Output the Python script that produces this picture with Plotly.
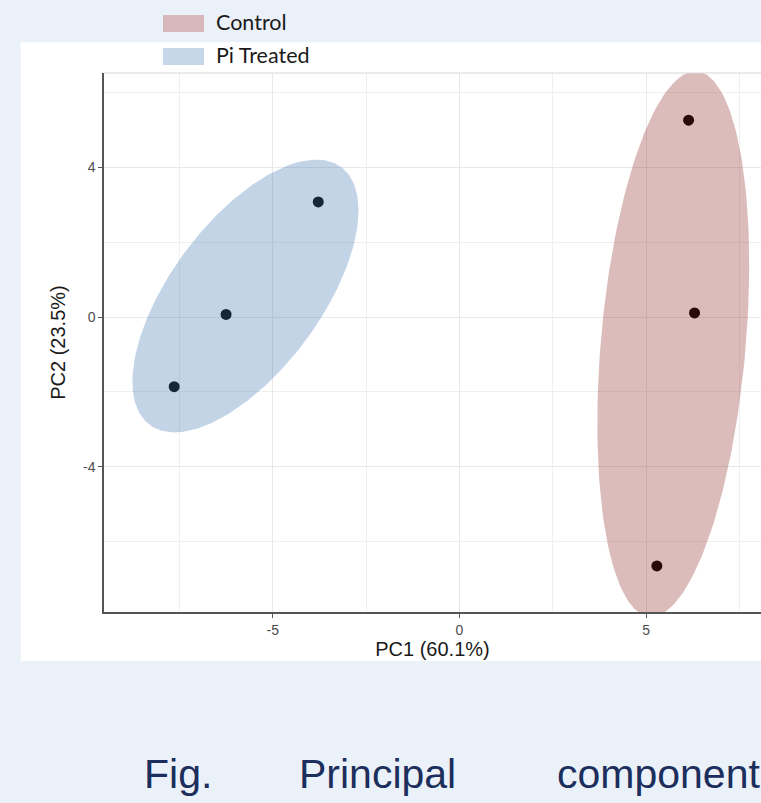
import numpy as np
import plotly.graph_objects as go

# PCA scores per group
groups = ["Control", "Pi Treated"]
pc1_control = [6.14, 6.30, 5.29]
pc2_control = [5.25, 0.11, -6.64]
pc1_pi = [-7.64, -6.25, -3.78]
pc2_pi = [-1.86, 0.07, 3.07]

# group ellipses: centre, semi-axes and rotation (degrees)
ell_cx = [5.73, -5.73]
ell_cy = [-0.72, 0.56]
ell_major = [7.30, 4.29]
ell_minor = [1.94, 2.00]
ell_angle = [85.0, 53.2]

fill_colors = ["rgba(140,30,30,0.30)", "rgba(70,120,180,0.32)"]
legend_colors = ["#d8b8bb", "#c7d7ea"]

x_ticks = [-5, 0, 5]
x_ticktext = ["-5", "0", "5"]
y_ticks = [-4, 0, 4]
y_ticktext = ["-4", "0", "4"]
x_range = [-9.52, 8.08]
y_range = [-7.87, 6.51]
x_title = "PC1 (60.1%)"
y_title = "PC2 (23.5%)"
caption_words = ["Fig.", "Principal", "component"]

W, H = 761, 803
L, R, T, B = 104, 0, 73, 191
PW, PH = W - L - R, H - T - B


def px(x):
    return (x - L) / PW


def py(y):
    return (H - B - y) / PH


def ellipse(cx, cy, a, b, deg, n=240):
    t = np.linspace(0, 2 * np.pi, n)
    th = np.radians(deg)
    x = cx + a * np.cos(t) * np.cos(th) - b * np.sin(t) * np.sin(th)
    y = cy + a * np.cos(t) * np.sin(th) + b * np.sin(t) * np.cos(th)
    return x, y


fig = go.Figure()

# points first, ellipses drawn over them with transparency
for xs, ys in [(pc1_control, pc2_control), (pc1_pi, pc2_pi)]:
    fig.add_trace(go.Scatter(x=xs, y=ys, mode="markers",
                             marker=dict(size=11, color="black"),
                             showlegend=False, hoverinfo="skip"))

for i, g in enumerate(groups):
    ex, ey = ellipse(ell_cx[i], ell_cy[i], ell_major[i], ell_minor[i], ell_angle[i])
    fig.add_trace(go.Scatter(x=ex, y=ey, mode="lines", fill="toself",
                             fillcolor=fill_colors[i], line=dict(width=0),
                             name=g, showlegend=False, hoverinfo="skip"))

shapes = [
    # white figure panel
    dict(type="rect", xref="paper", yref="paper", layer="below",
         x0=px(20.7), x1=px(770), y0=py(661), y1=py(42.3),
         fillcolor="white", line=dict(width=0)),
    # light top border of the panel
    dict(type="line", xref="paper", yref="paper", x0=0, x1=1, y0=1, y1=1,
         line=dict(color="#d6d6d6", width=1)),
]
annotations = []

# legend keys
for i, g in enumerate(groups):
    yc = [23.5, 56.5][i]
    shapes.append(dict(type="rect", xref="paper", yref="paper",
                       x0=px(163), x1=px(204), y0=py(yc + 8.5), y1=py(yc - 8.5),
                       fillcolor=legend_colors[i], line=dict(width=0)))
    annotations.append(dict(text=g, xref="paper", yref="paper", x=px(214), y=py(yc - 1.8),
                            xanchor="left", yanchor="middle", showarrow=False,
                            font=dict(family="Lato, Open Sans, sans-serif", size=21.5,
                                      color="#1a1a1a")))

# caption below the figure
for word, xl in zip(caption_words, [142, 297, 555]):
    annotations.append(dict(text=word, xref="paper", yref="paper", x=px(xl), y=py(774),
                            xanchor="left", yanchor="middle", showarrow=False,
                            font=dict(family="Liberation Sans, Arial", size=41,
                                      color="#1b2e5c")))

axis_common = dict(
    showline=True, linecolor="#555555", linewidth=1.5,
    ticks="outside", ticklen=4, tickwidth=1, tickcolor="#555555",
    showgrid=True, gridcolor="#e8e8e8", gridwidth=1, zeroline=False,
    tickfont=dict(family="Liberation Sans, Arial", size=14, color="#4d4d4d"),
)

fig.update_layout(
    width=W, height=H,
    margin=dict(l=L, r=R, t=T, b=B),
    paper_bgcolor="#ebf1f8", plot_bgcolor="white",
    shapes=shapes, annotations=annotations,
    xaxis=dict(range=x_range, tickmode="array", tickvals=x_ticks, ticktext=x_ticktext,
               minor=dict(dtick=2.5, tick0=0, showgrid=True, gridcolor="#efefef", ticks=""),
               title=dict(text=x_title, standoff=5,
                          font=dict(family="Liberation Sans, Arial", size=20, color="#1a1a1a")),
               **axis_common),
    yaxis=dict(range=y_range, tickmode="array", tickvals=y_ticks, ticktext=y_ticktext,
               minor=dict(dtick=2, tick0=0, showgrid=True, gridcolor="#efefef", ticks=""),
               title=dict(text=y_title, standoff=12,
                          font=dict(family="Liberation Sans, Arial", size=20, color="#1a1a1a")),
               **axis_common),
)

fig.write_html("out.html")
